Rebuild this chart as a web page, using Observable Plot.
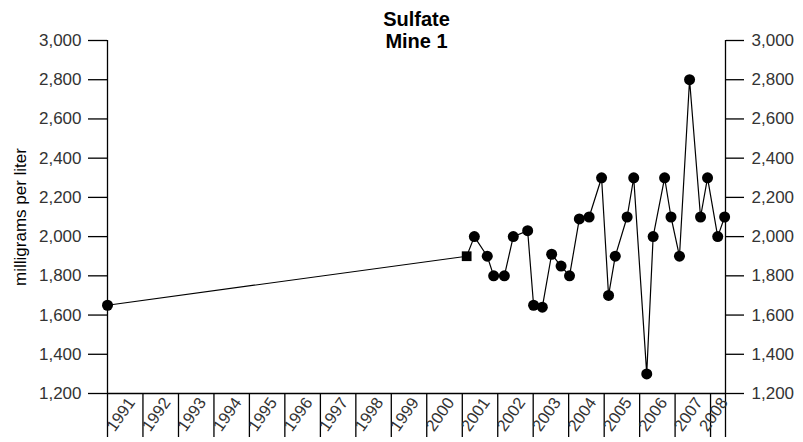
<!DOCTYPE html>
<html><head><meta charset="utf-8">
<script src="https://cdn.jsdelivr.net/npm/d3@7"></script>
<script src="https://cdn.jsdelivr.net/npm/@observablehq/plot@0.6"></script>
<style>
body{margin:0;background:#fff}
#chart svg{font-family:"Liberation Sans",Arial,sans-serif}
</style>
</head><body><div id="chart"></div>
<script>
const titleLines = ["Sulfate", "Mine 1"];
const yLabel = "milligrams per liter";
const sampleDates = [
  "1991-01-01","2001-02-15","2001-05-05","2001-09-15","2001-11-20",
  "2002-03-10","2002-06-10","2002-11-05","2003-01-05","2003-04-05",
  "2003-07-10","2003-10-15","2004-01-10","2004-04-20","2004-07-30",
  "2004-12-05","2005-02-15","2005-04-25","2005-08-25","2005-11-01",
  "2006-03-15","2006-05-20","2006-09-15","2006-11-20","2007-02-15",
  "2007-05-30","2007-09-20","2007-12-01","2008-03-15","2008-05-25"
];
const sulfate = [
  1650,1900,2000,1900,1800,
  1800,2000,2030,1650,1640,
  1910,1850,1800,2090,2100,
  2300,1700,1900,2100,2300,
  1300,2000,2300,2100,1900,
  2800,2100,2300,2000,2100
];
const markerShapes = ["circle","square"].concat(Array(28).fill("circle"));
const yTicks = [1200,1400,1600,1800,2000,2200,2400,2600,2800,3000];
const yearLabels = ["1991","1992","1993","1994","1995","1996","1997","1998","1999","2000","2001","2002","2003","2004","2005","2006","2007","2008"];
const xStart = "1991-01-01";
const xEnd = "2008-06-03";

const data = sampleDates.map((d, i) => ({date: new Date(d), value: sulfate[i], shape: markerShapes[i]}));
const x0 = new Date(xStart), x1 = new Date(xEnd);
const yearStarts = yearLabels.map(y => new Date(`${y}-01-01`));
const tickDates = yearStarts.concat([x1]);
const labelPos = yearLabels.map((y, i) => {
  const a = yearStarts[i];
  const b = i + 1 < yearStarts.length ? yearStarts[i + 1] : x1;
  return {date: new Date((+a + +b) / 2), label: y};
});
const fmt = d3.format(",");

const chart = Plot.plot({
  width: 803,
  height: 442,
  marginLeft: 107,
  marginRight: 78,
  marginTop: 40,
  marginBottom: 49,
  style: {fontFamily: '"Liberation Sans", Arial, sans-serif', background: "#fff", color: "#000", fontSize: "17px"},
  x: {type: "utc", domain: [x0, x1]},
  y: {domain: [1200, 3000]},
  marks: [
    Plot.ruleX([x0, x1], {y1: 1200, y2: 3000, stroke: "#000", strokeWidth: 1.3}),
    Plot.axisY({anchor: "left", ticks: yTicks, tickSize: 19, tickPadding: 7, tickFormat: fmt, label: null, fontSize: 17, stroke: "#000", strokeWidth: 1.3, fill: "#333"}),
    Plot.axisY({anchor: "right", ticks: yTicks, tickSize: 18, tickPadding: 8, tickFormat: fmt, label: null, fontSize: 17, stroke: "#000", strokeWidth: 1.3, fill: "#333"}),
    Plot.ruleY([1200], {stroke: "#000", strokeWidth: 1.3}),
    Plot.axisX({ticks: tickDates, tickSize: 44, tickFormat: () => "", label: null, stroke: "#000", strokeWidth: 1.3}),
    Plot.text(labelPos, {x: "date", text: "label", frameAnchor: "bottom", dy: 24, rotate: -55, fontSize: 16.5, fill: "#333"}),
    Plot.text([yLabel], {frameAnchor: "left", dx: -87, rotate: -90, textAnchor: "middle", fontSize: 17, fill: "#000"}),
    Plot.text([titleLines[0]], {frameAnchor: "top", dy: -15, lineAnchor: "bottom", textAnchor: "middle", fontSize: 20, fontWeight: "bold", fill: "#000"}),
    Plot.text([titleLines[1]], {frameAnchor: "top", dy: 7, lineAnchor: "bottom", textAnchor: "middle", fontSize: 20, fontWeight: "bold", fill: "#000"}),
    Plot.line(data, {x: "date", y: "value", stroke: "#000", strokeWidth: 1.2}),
    Plot.dot(data, {x: "date", y: "value", symbol: "shape", r: 5.5, fill: "#000", stroke: "none"})
  ]
});
document.getElementById("chart").append(chart);
</script>
</body></html>
